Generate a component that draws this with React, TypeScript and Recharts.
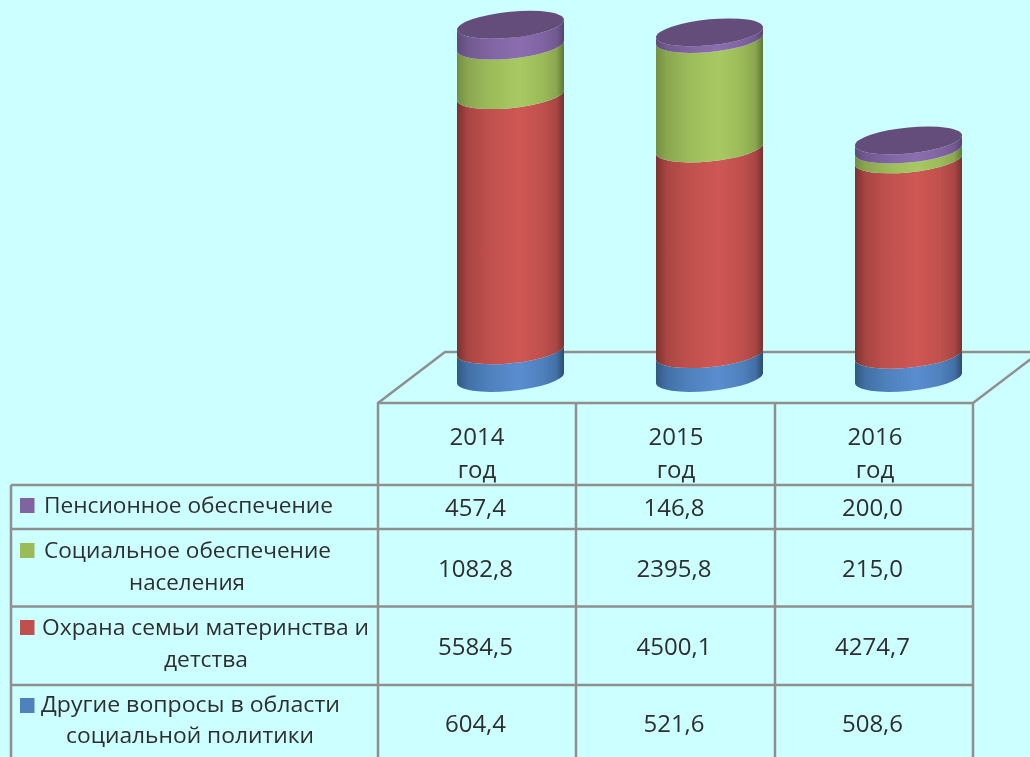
import { BarChart, Bar, XAxis, YAxis } from "recharts"

const years = ["2014", "2015", "2016"]
const pension = [457.4, 146.8, 200.0]
const social = [1082.8, 2395.8, 215.0]
const family = [5584.5, 4500.1, 4274.7]
const other = [604.4, 521.6, 508.6]

const chartData = years.map((year, i) => ({
  year,
  pension: pension[i],
  social: social[i],
  family: family[i],
  other: other[i],
}))

const BG = "#CCFFFF"
const GRID = "#8F8F8F"
const INK = "#2E2E2E"
const FONT = '"Open Sans", "Noto Sans", sans-serif'
const SOFT = "blur(0.45px)"

// base, highlight, left edge, right edge, shoulder
const SHADES = {
  pension: ["#8064A2", "#8C6EB0", "#5F4A79", "#574470", "#72598F"],
  social: ["#9BBB59", "#A8C962", "#739042", "#5F7636", "#8AA650"],
  family: ["#C0504D", "#CF5754", "#7E302E", "#773030", "#A84643"],
  other: ["#4F81BD", "#5A8DD0", "#325880", "#2D4B70", "#4270A6"],
}
const TOP_CAP = "#644D7B"

const B = 13
const TILT = 5

function Cylinder(props: any) {
  const { x, y, width, height, seriesKey } = props
  if (height == null) return null
  const cx = x + width / 2
  const a = width / 2
  const top = y
  const bottom = y + height
  const skew = `matrix(1,${-TILT / a},0,1,${cx},0)`
  return (
    <g transform={skew}>
      <path
        d={`M${-a},${top} A${a},${B} 0 0 0 ${a},${top} L${a},${bottom} A${a},${B} 0 0 1 ${-a},${bottom} Z`}
        fill={`url(#grad-${seriesKey})`}
      />
      {seriesKey === "pension" && <ellipse cx={0} cy={top} rx={a} ry={B} fill={TOP_CAP} />}
    </g>
  )
}

function YearTick({ x, y, payload }: any) {
  return (
    <g fontFamily={FONT} fontSize={24} fill={INK} textAnchor="middle" style={{ filter: SOFT }}>
      <text x={x - 33.5} y={y + 65}>{payload.value}</text>
      <text x={x - 33.5} y={y + 98}>год</text>
    </g>
  )
}

const rows = [
  { lines: ["Пенсионное обеспечение"], values: pension, color: SHADES.pension[0] },
  { lines: ["Социальное обеспечение", "населения"], values: social, color: SHADES.social[0] },
  { lines: ["Охрана семьи материнства и", "детства"], values: family, color: SHADES.family[0] },
  { lines: ["Другие вопросы в области", "социальной политики"], values: other, color: SHADES.other[0] },
]

// table layout, px
const COL_X = [378, 576, 775, 973]
const ROW_Y = [485, 529, 606.5, 685, 757]
const LEFT = 11
const MARK_Y = [498, 543, 620, 698]
const VALUE_Y = [516, 577, 655, 732]
const LINE_Y = [[513], [558, 590], [635, 667], [712, 743]]
const LINE_X = [[44], [44, 129], [42, 164], [41, 66]]
const LINE_W = [[289], [287, 116], [327, 84], [299, 248]]

const fmt = (n: number) => n.toFixed(1).replace(".", ",")

function Table() {
  return (
    <svg width={1030} height={757} style={{ position: "absolute", left: 0, top: 0 }}>
      <g stroke={GRID} strokeWidth={2.5} fill="none">
        <path d="M378,403 L445,352 L1040,352 L973,403" />
        <line x1={377} y1={403} x2={974} y2={403} />
        {COL_X.map((x) => (
          <line key={x} x1={x} y1={403} x2={x} y2={757} />
        ))}
        <line x1={LEFT} y1={485} x2={LEFT} y2={757} />
        {ROW_Y.slice(0, 4).map((y) => (
          <line key={y} x1={LEFT} y1={y} x2={973} y2={y} />
        ))}
      </g>
      <g fontFamily={FONT} fontSize={22} fill={INK} style={{ filter: SOFT }}>
        {rows.map((row, i) => (
          <g key={row.color}>
            <rect x={20} y={MARK_Y[i]} width={14.5} height={15} fill={row.color} />
            {row.lines.map((line, j) => (
              <text
                key={line}
                x={LINE_X[i][j]}
                y={LINE_Y[i][j]}
                textLength={LINE_W[i][j]}
                lengthAdjust="spacingAndGlyphs"
              >
                {line}
              </text>
            ))}
            {row.values.map((v, k) => (
              <text
                key={k}
                x={(COL_X[k] + COL_X[k + 1]) / 2 - 1.5}
                y={VALUE_Y[i]}
                fontSize={24}
                textAnchor="middle"
              >
                {fmt(v)}
              </text>
            ))}
          </g>
        ))}
      </g>
    </svg>
  )
}

const seriesOrder = ["other", "family", "social", "pension"] as const

export default function App() {
  return (
    <div style={{ position: "absolute", left: 0, top: 0, width: 1030, height: 757, background: BG, overflow: "hidden" }}>
      <Table />
      <div style={{ position: "absolute", left: 0, top: 0 }}>
        <BarChart
          width={1030}
          height={757}
          data={chartData}
          margin={{ top: 12.4, right: 22, bottom: 279, left: 411 }}
        >
          <defs>
            {seriesOrder.map((key) => {
              const [base, light, leftEdge, rightEdge, shoulder] = SHADES[key]
              return (
                <linearGradient key={key} id={`grad-${key}`} x1="0" y1="0" x2="1" y2="0">
                  <stop offset="0" stopColor={leftEdge} />
                  <stop offset="0.1" stopColor={shoulder} />
                  <stop offset="0.3" stopColor={base} />
                  <stop offset="0.58" stopColor={light} />
                  <stop offset="0.8" stopColor={base} />
                  <stop offset="0.93" stopColor={shoulder} />
                  <stop offset="1" stopColor={rightEdge} />
                </linearGradient>
              )
            })}
          </defs>
          <XAxis
            dataKey="year"
            axisLine={false}
            tickLine={false}
            tickSize={0}
            height={100}
            interval={0}
            tick={<YearTick />}
          />
          <YAxis hide domain={[0, 8000]} />
          {seriesOrder.map((key) => (
            <Bar
              key={key}
              dataKey={key}
              stackId="a"
              barSize={107}
              isAnimationActive={false}
              shape={(p: any) => <Cylinder {...p} seriesKey={key} />}
            />
          ))}
        </BarChart>
      </div>
    </div>
  )
}
